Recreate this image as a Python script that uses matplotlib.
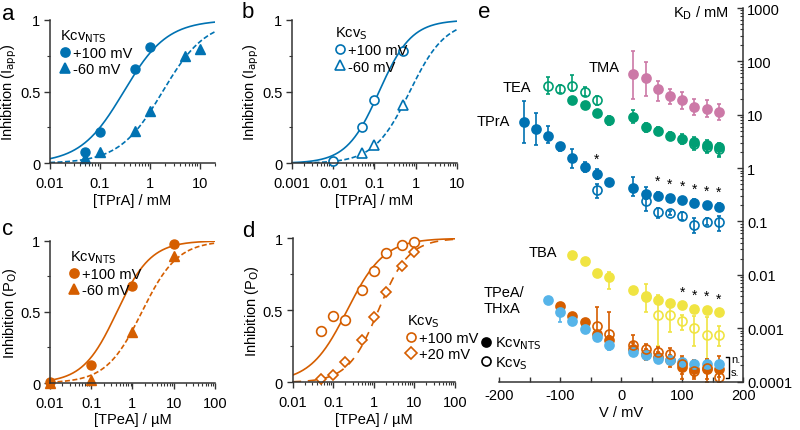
import numpy as np
import matplotlib
matplotlib.use("Agg")
import matplotlib.pyplot as plt
from matplotlib.lines import Line2D
from matplotlib.ticker import LogLocator, FuncFormatter, MultipleLocator, NullFormatter

plt.rcParams['font.family'] = ['Liberation Sans', 'DejaVu Sans']
plt.rcParams['axes.unicode_minus'] = False
plt.rcParams['font.size'] = 10.5

BLUE = '#0072b2'
ORANGE = '#d55e00'
GREEN = '#009e73'
PINK = '#cc79a7'
YELLOW = '#f0e442'
SKY = '#56b4e9'

# ---------------- panel a (TPrA, Kcv_NTS) ----------------
a_conc_p100 = [0.05, 0.1, 0.5, 1]
a_inh_p100 = [0.077, 0.216, 0.658, 0.814]
a_conc_m60 = [0.05, 0.1, 0.5, 1, 5, 10]
a_inh_m60 = [0.035, 0.08, 0.228, 0.367, 0.746, 0.80]
a_fit_K = [0.3, 1.8]
a_fit_n = [1.0, 1.0]

# ---------------- panel b (TPrA, Kcv_S) ----------------
b_conc_p100 = [0.01, 0.05, 0.1, 0.5]
b_inh_p100 = [0.018, 0.25, 0.444, 0.786]
b_conc_m60 = [0.05, 0.1, 0.5]
b_inh_m60 = [0.072, 0.128, 0.407]
b_fit_K = [0.13, 0.72]
b_fit_n = [1.1, 1.0]

# ---------------- panel c (TPeA, Kcv_NTS) ----------------
c_conc = [0.01, 0.1, 1, 10]
c_inh_p100 = [0.01, 0.129, 0.68, 0.98]
c_inh_m60 = [0.0, 0.02, 0.356, 0.895]
c_fit_K = [0.42, 1.7]
c_fit_n = [1.05, 1.0]

# ---------------- panel d (TPeA, Kcv_S) ----------------
d_conc = [0.05, 0.1, 0.2, 0.5, 1, 2, 5, 10]
d_inh_p100 = [0.358, 0.458, 0.433, 0.643, 0.775, 0.896, 0.956, 0.972]
d_inh_p20 = [0.023, 0.053, 0.139, 0.296, 0.456, 0.625, 0.81, 0.903]
d_fit_K = [0.22, 1.3]
d_fit_n = [0.95, 1.15]

# ---------------- panel e (K_D vs V) ----------------
tpra_V = [-160, -140, -120, -100, -80, -60, -40, -20, 20, 40, 60, 80, 100, 120, 140, 160]
tpra_K = [7.4, 5.4, 4.0, 2.55, 1.54, 1.06, 0.78, 0.55, 0.43, 0.33, 0.30, 0.27, 0.25, 0.22, 0.20, 0.19]
tpra_hi = [17.8, 10.7, 6.2, 3.0, 2.27, 1.31, 0.96, 0.62, 0.67, 0.45, 0.36, 0.31, 0.29, 0.26, 0.23, 0.22]
tpra_lo = [2.9, 2.7, 2.9, 2.05, 1.0, 0.85, 0.62, 0.49, 0.30, 0.26, 0.25, 0.23, 0.21, 0.19, 0.17, 0.16]
tpra_s_V = [-40, 40, 60, 80, 100, 120, 140, 160]
tpra_s_K = [0.39, 0.245, 0.148, 0.144, 0.128, 0.086, 0.099, 0.096]
tpra_s_hi = [0.50, 0.30, 0.176, 0.16, 0.15, 0.115, 0.115, 0.128]
tpra_s_lo = [0.28, 0.155, 0.115, 0.13, 0.108, 0.06, 0.085, 0.067]

tea_V = [-80, -60, -40, -20, 20, 40, 60, 80, 100, 120, 140, 160]
tea_K = [19, 15.3, 10.7, 7.9, 9.1, 5.8, 5.0, 4.0, 3.5, 3.1, 2.7, 2.45]
tea_hi = [20, 16, 11.3, 9.5, 12.5, 7.0, 6.0, 4.8, 4.3, 3.8, 3.3, 3.0]
tea_lo = [18, 14.6, 10.1, 6.5, 7.0, 4.8, 4.2, 3.3, 2.8, 2.5, 2.0, 1.7]
tea_s_V = [-120, -100, -80, -60, -40, 120, 140, 160]
tea_s_K = [35, 30, 35, 27, 18.8, 2.8, 2.5, 2.25]
tea_s_hi = [51, 36, 55, 33, 22.6, 3.4, 3.1, 2.7]
tea_s_lo = [24, 25, 28, 22, 15, 2.2, 1.9, 1.6]

tma_V = [20, 40, 60, 80, 100, 120, 140, 160]
tma_K = [57, 48, 30, 22, 19, 14, 12.7, 11.3]
tma_hi = [156, 98, 43, 30, 27, 20, 19, 16]
tma_lo = [19.6, 22, 18, 16, 13, 10, 9, 8]

tba_V = [-80, -60, -40, -20, 20, 40, 60, 80, 100, 120, 140, 160]
tba_K = [0.024, 0.018, 0.011, 0.0089, 0.0052, 0.0040, 0.0034, 0.0030, 0.0027, 0.0023, 0.0022, 0.0020]
tba_hi = [0.025, 0.019, 0.0115, 0.0115, 0.0054, 0.0045, 0.0036, 0.0032, 0.0028, 0.0024, 0.0023, 0.0021]
tba_lo = [0.023, 0.015, 0.0105, 0.0055, 0.0050, 0.0035, 0.0032, 0.0029, 0.0026, 0.0022, 0.0021, 0.0019]
tba_s_V = [40, 60, 80, 100, 120, 140, 160]
tba_s_K = [0.0038, 0.0018, 0.0018, 0.00135, 0.00100, 0.00074, 0.00075]
tba_s_hi = [0.0067, 0.0041, 0.0033, 0.0018, 0.0017, 0.0016, 0.0011]
tba_s_lo = [0.0020, 0.00047, 0.00083, 0.00094, 0.00047, 0.00026, 0.00047]

tpea_V = [-100, -80, -60, -40, -20, 20, 40, 60, 80, 100, 120, 140, 160]
tpea_K = [0.0026, 0.00166, 0.00129, 0.00078, 0.00059, 0.00040, 0.00033, 0.00029, 0.00025, 0.00019, 0.00017, 0.00017, 0.00017]
tpea_hi = [0.0029, 0.0019, 0.0015, 0.0009, 0.0007, 0.00052, 0.00040, 0.00036, 0.00032, 0.00028, 0.00024, 0.00025, 0.00022]
tpea_lo = [0.0023, 0.0015, 0.0011, 0.00062, 0.00048, 0.00031, 0.00025, 0.00022, 0.00019, 0.00011, 0.00012, 0.00010, 0.00012]
tpea_s_V = [-40, -20, 20, 40, 60, 80, 100, 120, 140, 160]
tpea_s_K = [0.00112, 0.00078, 0.00049, 0.00041, 0.00035, 0.00033, 0.00021, 0.00016, 0.00018, 0.00012]
tpea_s_hi = [0.0025, 0.0020, 0.00075, 0.0005, 0.00045, 0.00042, 0.00030, 0.00025, 0.00026, 0.00030]
tpea_s_lo = [0.0007, 0.0005, 0.00033, 0.0003, 0.00028, 0.00026, 0.00014, 0.00011, 0.00011, 0.0001]

thxa_V = [-120, -100, -80, -60, -40, -20, 20, 40, 60, 80, 100, 120, 140, 160]
thxa_K = [0.0033, 0.0020, 0.00135, 0.00097, 0.00068, 0.00049, 0.00036, 0.00031, 0.00026, 0.00025, 0.00023, 0.00021, 0.00021, 0.00021]
thxa_hi = [0.0034, 0.0021, 0.0014, 0.0010, 0.0007, 0.00052, 0.00037, 0.00032, 0.00027, 0.00026, 0.00024, 0.00022, 0.00022, 0.00022]
thxa_lo = [0.0032, 0.00128, 0.0012, 0.00093, 0.00062, 0.00039, 0.00035, 0.00030, 0.00025, 0.00024, 0.00022, 0.00020, 0.00020, 0.00020]

star_tpra_V = [-40, 60, 80, 100, 120, 140, 160]
star_tba_V = [100, 120, 140, 160]


def hill(x, K, n):
    x = np.asarray(x, dtype=float)
    return x ** n / (x ** n + K ** n)


def style_dose_axes(ax, xlim, xlabel, ylabel):
    ax.set_xscale('log')
    ax.set_xlim(*xlim)
    ax.set_ylim(0, 1)
    for s in ['top', 'right']:
        ax.spines[s].set_visible(False)
    for s in ['left', 'bottom']:
        ax.spines[s].set_linewidth(1.1)
        ax.spines[s].set_color('#333333')
    ax.set_yticks([0, 0.5, 1])
    ax.set_yticks([0.25, 0.75], minor=True)
    ax.yaxis.set_major_formatter(FuncFormatter(lambda v, p: '%g' % v))
    ax.xaxis.set_major_locator(LogLocator(base=10, numticks=12))
    ax.xaxis.set_minor_locator(LogLocator(base=10, subs=np.arange(2, 10), numticks=12))
    ax.xaxis.set_major_formatter(FuncFormatter(lambda v, p: '%g' % v))
    ax.xaxis.set_minor_formatter(NullFormatter())
    ax.tick_params(which='major', direction='out', length=4, width=1, color='#333333')
    ax.tick_params(axis='x', which='major', pad=5)
    ax.tick_params(axis='y', which='major', pad=3)
    ax.tick_params(which='minor', direction='out', length=2.5, width=0.8, color='#333333')
    ax.set_xlabel(xlabel, labelpad=2)
    ax.set_ylabel(ylabel, labelpad=1)


def legend_marker(marker, color, filled):
    return Line2D([], [], linestyle='none', marker=marker, markersize=6.5,
                  markeredgecolor=color, markeredgewidth=1.2,
                  markerfacecolor=color if filled else 'none')


fig = plt.figure(figsize=(8, 4.31), dpi=100)
axa = fig.add_axes([0.0625, 0.6188, 0.206, 0.3325])
axb = fig.add_axes([0.365, 0.6188, 0.206, 0.3325])
axc = fig.add_axes([0.0625, 0.109, 0.206, 0.330])
axd = fig.add_axes([0.366, 0.1107, 0.2025, 0.334])
axe = fig.add_axes([0.624, 0.1125, 0.305, 0.8666])

# ---- a ----
xs = np.logspace(-2, np.log10(20), 300)
axa.plot(xs, hill(xs, a_fit_K[0], a_fit_n[0]), color=BLUE, lw=1.2)
axa.plot(xs, hill(xs, a_fit_K[1], a_fit_n[1]), color=BLUE, lw=1.2, dashes=(3, 1.5))
axa.plot(a_conc_p100, a_inh_p100, 'o', color=BLUE, ms=6.5, clip_on=False)
axa.plot(a_conc_m60, a_inh_m60, '^', color=BLUE, ms=6.5, clip_on=False)
style_dose_axes(axa, (0.01, 20), '[TPrA] / mM', 'Inhibition (I$_{\\mathrm{app}}$)')
axa.legend([legend_marker('o', BLUE, True), legend_marker('^', BLUE, True)],
           ['+100 mV', '-60 mV'], title='Kcv$_{\\mathrm{NTS}}$', loc='upper left',
           bbox_to_anchor=(0.0, 1.02), frameon=False, handlelength=0.6,
           handletextpad=0.25, borderpad=0.2, labelspacing=0.15,
           alignment='left', fontsize=10.5, title_fontsize=10.5)

# ---- b ----
xs = np.logspace(-3, 1, 300)
axb.plot(xs, hill(xs, b_fit_K[0], b_fit_n[0]), color=BLUE, lw=1.2)
axb.plot(xs, hill(xs, b_fit_K[1], b_fit_n[1]), color=BLUE, lw=1.2, dashes=(3, 1.5))
axb.plot(b_conc_p100, b_inh_p100, 'o', color=BLUE, mfc='white', mew=1.2, ms=6.5, clip_on=False)
axb.plot(b_conc_m60, b_inh_m60, '^', color=BLUE, mfc='white', mew=1.2, ms=6.5, clip_on=False)
style_dose_axes(axb, (0.001, 10), '[TPrA] / mM', 'Inhibition (I$_{\\mathrm{app}}$)')
axb.legend([legend_marker('o', BLUE, False), legend_marker('^', BLUE, False)],
           ['+100 mV', '-60 mV'], title='Kcv$_{\\mathrm{S}}$', loc='upper left',
           bbox_to_anchor=(0.2, 1.04), frameon=False, handlelength=0.6,
           handletextpad=0.25, borderpad=0.2, labelspacing=0.15,
           alignment='left', fontsize=10.5, title_fontsize=10.5)

# ---- c ----
xs = np.logspace(-2, 2, 300)
axc.plot(xs, hill(xs, c_fit_K[0], c_fit_n[0]), color=ORANGE, lw=1.2)
axc.plot(xs, hill(xs, c_fit_K[1], c_fit_n[1]), color=ORANGE, lw=1.2, dashes=(3, 1.5))
axc.plot(c_conc, c_inh_p100, 'o', color=ORANGE, ms=6.5, clip_on=False)
axc.plot(c_conc, c_inh_m60, '^', color=ORANGE, ms=6.5, clip_on=False)
style_dose_axes(axc, (0.01, 100), '[TPeA] / µM', 'Inhibition (P$_{\\mathrm{O}}$)')
axc.legend([legend_marker('o', ORANGE, True), legend_marker('^', ORANGE, True)],
           ['+100 mV', '-60 mV'], title='Kcv$_{\\mathrm{NTS}}$', loc='upper left',
           bbox_to_anchor=(0.06, 1.02), frameon=False, handlelength=0.6,
           handletextpad=0.25, borderpad=0.2, labelspacing=0.15,
           alignment='left', fontsize=10.5, title_fontsize=10.5)

# ---- d ----
axd.plot(xs, hill(xs, d_fit_K[0], d_fit_n[0]), color=ORANGE, lw=1.2)
axd.plot(xs, hill(xs, d_fit_K[1], d_fit_n[1]), color=ORANGE, lw=1.2, dashes=(5, 4))
axd.plot(d_conc, d_inh_p100, 'o', color=ORANGE, mfc='white', mew=1.2, ms=7, clip_on=False)
axd.plot(d_conc, d_inh_p20, 'D', color=ORANGE, mfc='white', mew=1.2, ms=5.5, clip_on=False)
style_dose_axes(axd, (0.01, 100), '[TPeA] / µM', 'Inhibition (P$_{\\mathrm{O}}$)')
axd.legend([legend_marker('o', ORANGE, False), legend_marker('D', ORANGE, False)],
           ['+100 mV', '+20 mV'], title='Kcv$_{\\mathrm{S}}$', loc='upper left',
           bbox_to_anchor=(0.64, 0.56), frameon=False, handlelength=0.6,
           handletextpad=0.25, borderpad=0.2, labelspacing=0.15,
           alignment='left', fontsize=10.5, title_fontsize=10.5)

# ---- e ----
ekw = dict(ms=6.5, capsize=1.5, elinewidth=1.2, capthick=1.2, clip_on=False)


def eb(V, K, hi, lo, color, filled):
    K = np.asarray(K)
    yerr = [K - np.asarray(lo), np.asarray(hi) - K]
    axe.errorbar(V, K, yerr=yerr, fmt='o', color=color, mec=color,
                 mfc=color if filled else 'none', mew=1.2, **ekw)


eb(tma_V, tma_K, tma_hi, tma_lo, PINK, True)
eb(tea_V, tea_K, tea_hi, tea_lo, GREEN, True)
eb(tea_s_V, tea_s_K, tea_s_hi, tea_s_lo, GREEN, False)
eb(tpra_V, tpra_K, tpra_hi, tpra_lo, BLUE, True)
eb(tpra_s_V, tpra_s_K, tpra_s_hi, tpra_s_lo, BLUE, False)
eb(tba_V, tba_K, tba_hi, tba_lo, YELLOW, True)
eb(tba_s_V, tba_s_K, tba_s_hi, tba_s_lo, YELLOW, False)
eb(tpea_V, tpea_K, tpea_hi, tpea_lo, ORANGE, True)
eb(thxa_V, thxa_K, thxa_hi, thxa_lo, SKY, True)
eb(tpea_s_V, tpea_s_K, tpea_s_hi, tpea_s_lo, ORANGE, False)

for v in star_tpra_V:
    k = tpra_K[tpra_V.index(v)]
    axe.text(v, k * 1.9, '*', ha='center', va='center', fontsize=10)
for v in star_tba_V:
    k = tba_K[tba_V.index(v)]
    axe.text(v, k * 1.8, '*', ha='center', va='center', fontsize=10)

axe.set_yscale('log')
axe.set_xlim(-200, 200)
axe.set_ylim(1e-4, 1e3)
for s in ['top', 'left']:
    axe.spines[s].set_visible(False)
for s in ['right', 'bottom']:
    axe.spines[s].set_linewidth(1.1)
    axe.spines[s].set_color('#333333')
axe.yaxis.tick_right()
axe.yaxis.set_major_locator(LogLocator(base=10, numticks=12))
axe.yaxis.set_minor_locator(LogLocator(base=10, subs=np.arange(2, 10), numticks=12))
axe.yaxis.set_major_formatter(FuncFormatter(lambda v, p: '%g' % v))
axe.yaxis.set_minor_formatter(NullFormatter())
axe.xaxis.set_major_locator(MultipleLocator(100))
axe.xaxis.set_minor_locator(MultipleLocator(50))
axe.tick_params(axis='y', which='major', direction='in', length=4, width=1, color='#333333', pad=3)
axe.tick_params(axis='y', which='minor', direction='in', length=2.5, width=0.8, color='#333333')
axe.tick_params(axis='x', which='both', direction='in', length=3.5, width=1, color='#333333', pad=5)
axe.set_xlabel('V / mV', labelpad=2)

axe.text(-3, 78, 'TMA', ha='right', va='center')
axe.text(-148, 33, 'TEA', ha='right', va='center')
axe.text(-183, 7.6, 'TPrA', ha='right', va='center')
axe.text(-105, 0.027, 'TBA', ha='right', va='center')
axe.text(-225, 0.0034, 'TPeA/\nTHxA', ha='left', va='center', linespacing=1.2)

# n.s. bracket
axe.plot([171, 176, 176, 171], [0.000285, 0.000285, 0.000115, 0.000115],
         color='black', lw=1, clip_on=False)
axe.text(180, 0.00026, 'n.', ha='left', va='center', fontsize=8)
axe.text(180, 0.00015, 's.', ha='left', va='center', fontsize=8)

axe.legend([legend_marker('o', 'black', True), legend_marker('o', 'black', False)],
           ['Kcv$_{\\mathrm{NTS}}$', 'Kcv$_{\\mathrm{S}}$'], loc='upper left',
           bbox_to_anchor=(-0.1, 0.145), frameon=False, handlelength=0.6,
           handletextpad=0.3, borderpad=0.0, labelspacing=0.2, fontsize=10.5)

fig.text(701 / 800, 1 - 13 / 431, 'K$_{\\mathrm{D}}$ / mM', ha='center', va='center')

for letter, xp, yb in [('a', 2, 20), ('b', 242, 18), ('c', 2, 235), ('d', 242, 237), ('e', 478, 18)]:
    fig.text(xp / 800, 1 - yb / 431, letter, fontsize=16, va='baseline', ha='left')

fig.savefig('out.png', dpi=100)
